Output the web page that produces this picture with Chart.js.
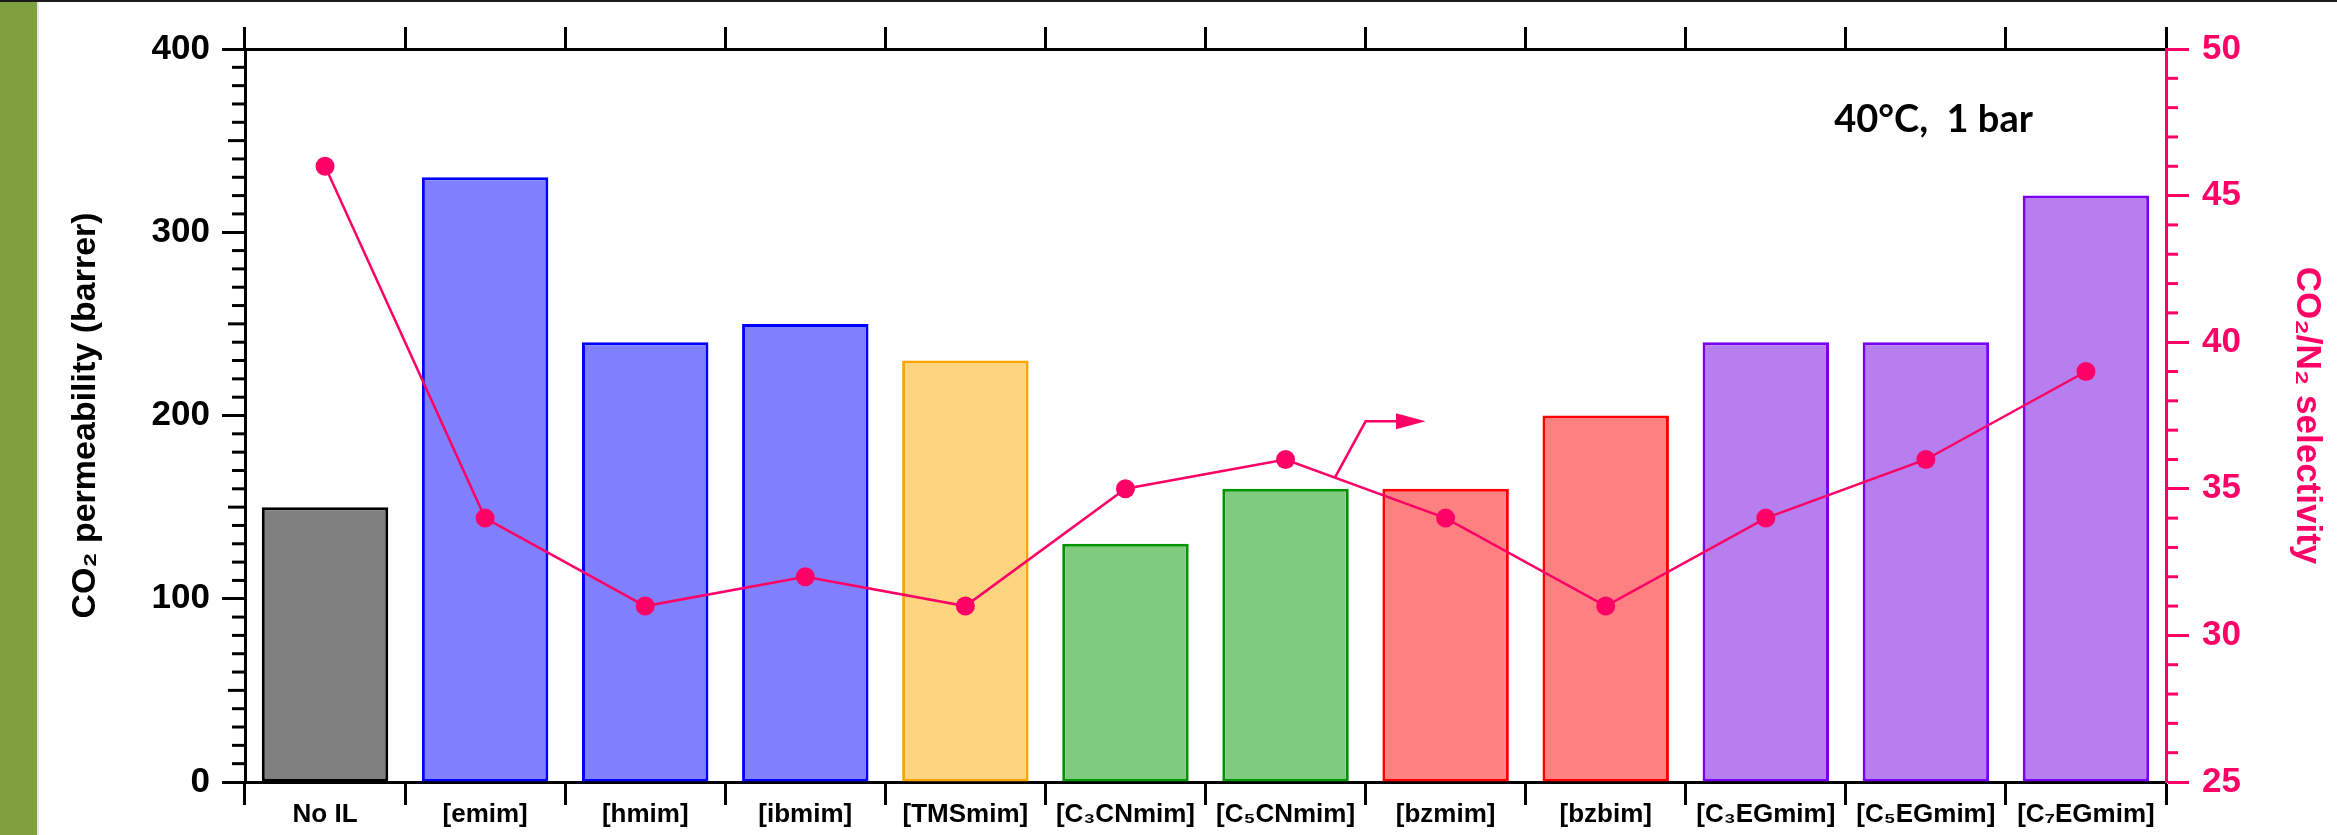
<!DOCTYPE html>
<html>
<head>
<meta charset="utf-8">
<title>CO2 permeability and selectivity</title>
<script src="https://cdn.jsdelivr.net/npm/chart.js@4"></script>
<style>
    html, body { margin: 0; padding: 0; background: #ffffff; }
    #chart-box { width: 2337px; height: 835px; }
</style>
</head>
<body>
<div id="chart-box">
    <canvas id="permChart" width="2337" height="835"></canvas>
</div>
<script>
// values
const categories = ["No IL", "[emim]", "[hmim]", "[ibmim]", "[TMSmim]", "[C₃CNmim]",
    "[C₅CNmim]", "[bzmim]", "[bzbim]", "[C₃EGmim]", "[C₅EGmim]", "[C₇EGmim]"];
const permeability = [150, 330, 240, 250, 230, 130, 160, 160, 200, 240, 240, 320];
const selectivity = [46, 34, 31, 32, 31, 35, 36, 34, 31, 34, 36, 39];

const permRange = [0, 400];
const selRange = [25, 50];

const barFill = ["#808080", "#8080FF", "#8080FF", "#8080FF", "#FDD47F", "#80CB80",
    "#80CB80", "#FF8080", "#FF8080", "#B67EEF", "#B67EEF", "#B67EEF"];
const barEdge = ["#000000", "#0000FF", "#0000FF", "#0000FF", "#FFA500", "#009600",
    "#009600", "#FF0000", "#FF0000", "#7A00F0", "#7A00F0", "#7A00F0"];

const PINK = "#FF0066";
const FONT = "'Liberation Sans', Arial, sans-serif";

// page background: olive strip on the left and a thin rule across the top
const backdrop = {
    id: "backdrop",
    beforeDraw(chart) {
        const ctx = chart.ctx;
        ctx.save();
        ctx.fillStyle = "#ffffff";
        ctx.fillRect(0, 0, chart.width, chart.height);
        ctx.fillStyle = "#80A040";
        ctx.fillRect(0, 0, 37, chart.height);
        ctx.fillStyle = "#e6e6e6";
        ctx.fillRect(37, 0, 2, chart.height);
        ctx.fillStyle = "#1a1a1a";
        ctx.fillRect(0, 0, chart.width, 2);
        ctx.restore();
    }
};

// minor ticks on both value axes
const minorTicks = {
    id: "minorTicks",
    afterDraw(chart) {
        const ctx = chart.ctx;
        const left = chart.scales.y;
        const right = chart.scales.y2;
        ctx.save();
        ctx.lineWidth = 3;

        ctx.strokeStyle = "#000000";
        for (let v = permRange[0]; v <= permRange[1]; v += 10) {
            if (v % 100 === 0) continue;
            const len = v % 50 === 0 ? 17 : 13;
            const py = left.getPixelForValue(v);
            ctx.beginPath();
            ctx.moveTo(left.right, py);
            ctx.lineTo(left.right - len, py);
            ctx.stroke();
        }

        ctx.strokeStyle = PINK;
        for (let v = selRange[0]; v <= selRange[1]; v += 1) {
            if (v % 5 === 0) continue;
            const py = right.getPixelForValue(v);
            ctx.beginPath();
            ctx.moveTo(right.left, py);
            ctx.lineTo(right.left + 12, py);
            ctx.stroke();
        }
        ctx.restore();
    }
};

// arrow pointing at the selectivity axis, in (category index, selectivity) units
const arrowPath = [[6.31, 35.4], [6.5, 37.3], [6.69, 37.3]];
const arrowTip = [6.875, 37.3];

const notes = {
    id: "notes",
    afterDatasetsDraw(chart) {
        const ctx = chart.ctx;
        const xs = chart.scales.x;
        const ys = chart.scales.y2;
        const area = chart.chartArea;
        ctx.save();

        ctx.strokeStyle = PINK;
        ctx.fillStyle = PINK;
        ctx.lineWidth = 2.5;
        ctx.beginPath();
        arrowPath.forEach(([i, v], k) => {
            const px = xs.getPixelForValue(i);
            const py = ys.getPixelForValue(v);
            if (k === 0) ctx.moveTo(px, py); else ctx.lineTo(px, py);
        });
        ctx.stroke();

        const last = arrowPath[arrowPath.length - 1];
        const bx = xs.getPixelForValue(last[0]);
        const by = ys.getPixelForValue(last[1]);
        const tx = xs.getPixelForValue(arrowTip[0]);
        ctx.beginPath();
        ctx.moveTo(bx, by - 8);
        ctx.lineTo(tx, by);
        ctx.lineTo(bx, by + 8);
        ctx.closePath();
        ctx.fill();

        ctx.fillStyle = "#000000";
        ctx.font = "bold 38px Lato, 'Open Sans', sans-serif";
        ctx.textAlign = "center";
        ctx.textBaseline = "alphabetic";
        ctx.fillText("40°C,  1 bar", area.left + area.width * 0.879, area.top + 83);
        ctx.restore();
    }
};

new Chart(document.getElementById("permChart"), {
    data: {
        labels: categories,
        datasets: [
            {
                type: "line",
                label: "CO2/N2 selectivity",
                data: selectivity,
                yAxisID: "y2",
                borderColor: PINK,
                borderWidth: 2.5,
                pointRadius: 9.5,
                pointBackgroundColor: PINK,
                pointBorderWidth: 0,
                tension: 0,
                order: 0
            },
            {
                type: "bar",
                label: "CO2 permeability",
                data: permeability,
                yAxisID: "y",
                backgroundColor: barFill,
                borderColor: barEdge,
                borderWidth: 3,
                borderSkipped: false,
                barPercentage: 0.79,
                categoryPercentage: 1,
                order: 1
            }
        ]
    },
    options: {
        responsive: false,
        animation: false,
        devicePixelRatio: 1,
        layout: { padding: { top: 27, left: 0, right: 0, bottom: 0 } },
        plugins: {
            legend: { display: false },
            tooltip: { enabled: false }
        },
        scales: {
            x: {
                type: "category",
                position: "bottom",
                offset: true,
                afterFit: scale => { scale.height = 53; },
                grid: {
                    offset: true,
                    drawOnChartArea: false,
                    drawTicks: true,
                    tickLength: 23,
                    tickWidth: 3,
                    tickColor: "#000000"
                },
                border: { color: "#000000", width: 3 },
                ticks: {
                    autoSkip: false,
                    maxRotation: 0,
                    padding: -6,
                    color: "#000000",
                    font: { family: FONT, size: 26, weight: "bold" }
                }
            },
            xTop: {
                type: "category",
                position: "top",
                labels: categories,
                offset: true,
                afterFit: scale => { scale.height = 22; },
                grid: {
                    offset: true,
                    drawOnChartArea: false,
                    drawTicks: true,
                    tickLength: 22,
                    tickWidth: 3,
                    tickColor: "#000000"
                },
                border: { color: "#000000", width: 3 },
                ticks: { display: false }
            },
            y: {
                type: "linear",
                position: "left",
                min: permRange[0],
                max: permRange[1],
                afterFit: scale => { scale.width = 245; },
                grid: {
                    drawOnChartArea: false,
                    drawTicks: true,
                    tickLength: 23,
                    tickWidth: 3,
                    tickColor: "#000000"
                },
                border: { color: "#000000", width: 3 },
                ticks: {
                    stepSize: 100,
                    padding: 12,
                    color: "#000000",
                    font: { family: FONT, size: 35, weight: "bold" }
                },
                title: {
                    display: true,
                    text: "CO₂ permeability (barrer)",
                    color: "#000000",
                    padding: { top: 65, bottom: 0 },
                    font: { family: FONT, size: 34, weight: "bold" }
                }
            },
            y2: {
                type: "linear",
                position: "right",
                min: selRange[0],
                max: selRange[1],
                afterFit: scale => { scale.width = 171; },
                grid: {
                    drawOnChartArea: false,
                    drawTicks: true,
                    tickLength: 23,
                    tickWidth: 3,
                    tickColor: PINK
                },
                border: { color: PINK, width: 3 },
                ticks: {
                    stepSize: 5,
                    padding: 13,
                    color: PINK,
                    font: { family: FONT, size: 35, weight: "bold" }
                },
                title: {
                    display: true,
                    text: "CO₂/N₂ selectivity",
                    color: PINK,
                    padding: { top: 9, bottom: 0 },
                    font: { family: FONT, size: 35, weight: "bold" }
                }
            }
        }
    },
    plugins: [backdrop, minorTicks, notes]
});
</script>
</body>
</html>
